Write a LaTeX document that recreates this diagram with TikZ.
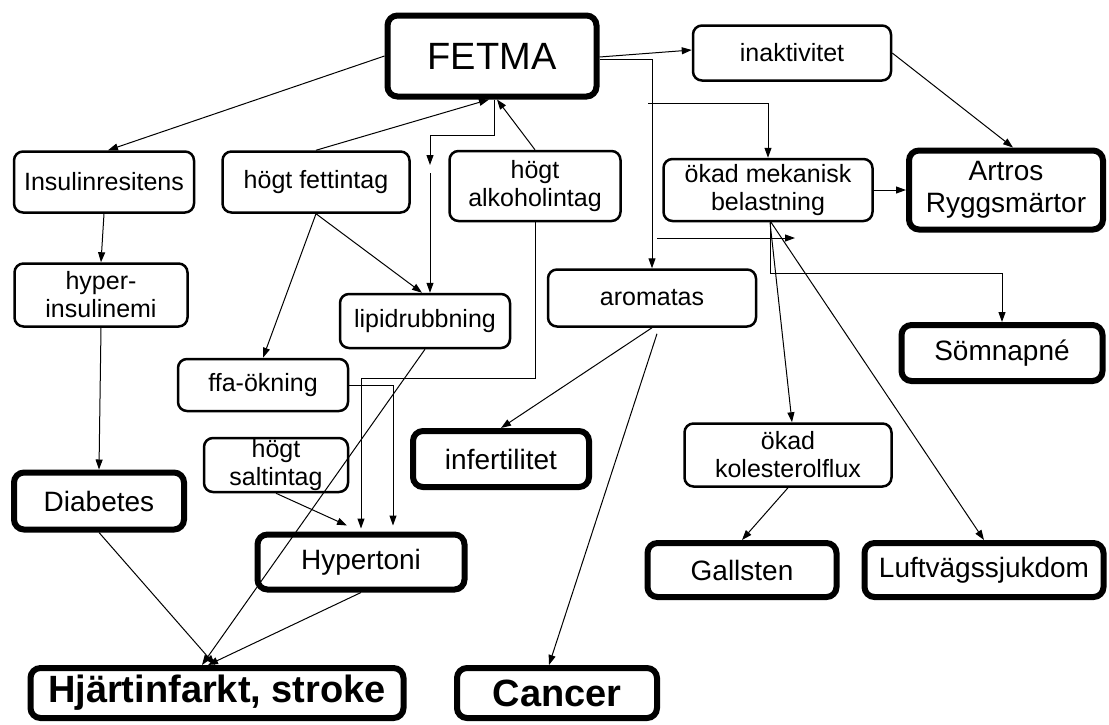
\documentclass[tikz,border=0pt]{standalone}
\usepackage{fontspec}
\setmainfont{Liberation Sans}
\usetikzlibrary{arrows.meta}

\begin{document}
\begin{tikzpicture}[x=1pt,y=-1pt]
        \tikzstyle{every node}=[draw,fill=white,rounded corners=9pt,align=center,inner sep=0pt,line width=2.5pt,font=\fontsize{25}{28}\selectfont]
        \tikzstyle{heavy}=[line width=6pt,rounded corners=10pt,font=\fontsize{28}{32}\selectfont]
        \tikzstyle{bold}=[font=\fontsize{38}{42}\selectfont\bfseries]
        \tikzstyle{arr}=[-{Triangle[length=10pt,width=7pt]},line width=1pt]
        \useasboundingbox (0,0) rectangle (1109,724);
        \node[heavy,font=\fontsize{38}{42}\selectfont,minimum width=209pt,minimum height=81pt] (fetma) at (492,56) {FETMA};
        \node[minimum width=198pt,minimum height=55pt] (inakt) at (792,53) {inaktivitet};
        \node[minimum width=180pt,minimum height=61pt] (insulin) at (104,182) {Insulinresitens};
        \node[minimum width=187pt,minimum height=61pt] (fett) at (316,182) {högt fettintag};
        \node[minimum width=171pt,minimum height=70pt] (alkohol) at (535,186) {högt\\alkoholintag};
        \node[minimum width=209pt,minimum height=62pt] (mekan) at (768,190) {ökad mekanisk\\belastning};
        \node[heavy,minimum width=194pt,minimum height=79pt] (artros) at (1006,190) {Artros\\Ryggsmärtor};
        \node[minimum width=173pt,minimum height=63pt] (hyper) at (101,295) {hyper-\\insulinemi};
        \node[minimum width=170pt,minimum height=54pt] (lipid) at (425,321) {lipidrubbning};
        \node[minimum width=170pt,minimum height=52pt] (ffa) at (263,385) {ffa-ökning};
        \node[minimum width=144pt,minimum height=54pt] (salt) at (276,465) {högt\\saltintag};
        \node[minimum width=208pt,minimum height=57pt] (aromatas) at (652,298) {aromatas};
        \node[heavy,minimum width=201pt,minimum height=56pt] (somn) at (1002,353) {Sömnapné};
        \node[heavy,minimum width=176pt,minimum height=56pt] (infert) at (501,459) {infertilitet};
        \node[minimum width=207pt,minimum height=63pt] (kolest) at (788,455) {ökad\\kolesterolflux};
        \node[heavy,minimum width=170pt,minimum height=57pt] (diab) at (99,501) {Diabetes};
        \node[heavy,minimum width=207pt,minimum height=55pt] (hypert) at (361,562) {Hypertoni};
        \node[heavy,minimum width=189pt,minimum height=54pt] (galls) at (742,570) {Gallsten};
        \node[heavy,minimum width=239pt,minimum height=54pt] (luft) at (984,570) {Luftvägssjukdom};
        \node[heavy,bold,minimum width=373pt,minimum height=50pt] (hjart) at (217,693) {Hjärtinfarkt, stroke};
        \node[heavy,bold,minimum width=200pt,minimum height=50pt] (cancer) at (557,693) {Cancer};
        \coordinate (fbend) at (430,135);
        \coordinate (fstop) at (430,165);
        \coordinate (lstart) at (430,173);
        \coordinate (abend) at (361,378);
        \coordinate (mbranch) at (648,103);
        \coordinate (sstart) at (657,238);
        \coordinate (send) at (795,238);
        \draw[arr] (fetma.west) -- ([xshift=4pt]insulin.north);
        \draw[arr] (fett.north) -- ([xshift=-3pt]fetma.south);
        \draw[arr] (alkohol.north) -- ([xshift=5pt]fetma.south);
        \draw[arr] ([xshift=2pt]fetma.south) |- (fbend) -- (fstop);
        \draw[arr] (lstart) -- (lstart |- lipid.north);
        \draw[arr] (insulin.south) -- (hyper.north);
        \draw[arr] (hyper.south) -- (diab.north);
        \draw[arr] (fett.south) -- (ffa.north);
        \draw[arr] (fett.south) -- ([xshift=-3pt]lipid.north);
        \draw[arr] (alkohol.south) |- (abend) -- ([yshift=3pt]hypert.north);
        \draw[arr] (ffa.east) -| ([xshift=32pt,yshift=6pt]hypert.north);
        \draw[arr] (salt.south) -- ([xshift=-14pt,yshift=6pt]hypert.north);
        \draw[arr] (lipid.south) -- ([xshift=-15pt]hjart.north);
        \draw[arr] (diab.south) -- ([xshift=-2pt]hjart.north);
        \draw[arr] (hypert.south) -- ([xshift=-9pt]hjart.north);
        \draw[arr] ([yshift=-1pt]fetma.east) -- ([yshift=3pt]inakt.west);
        \draw[arr] ([yshift=-3pt]fetma.east) -| (aromatas.north);
        \draw[arr] (mbranch) -| (mekan.north);
        \draw[arr] (sstart) -- (send);
        \draw[arr] (mekan.east) -- (artros.west);
        \draw[arr] (inakt.east) -- ([xshift=7pt]artros.north);
        \draw[arr] ([xshift=2pt]mekan.south) -- ([xshift=4pt]kolest.north);
        \draw[arr] ([xshift=3pt]mekan.south) -- (luft.north);
        \draw[arr] ([xshift=2pt]mekan.south) -- ++(0,51) -| (somn.north);
        \draw[arr] (aromatas.south) -- (infert.north);
        \draw[arr] ([xshift=5pt,yshift=-6pt]aromatas.south) -- ([xshift=-8pt]cancer.north);
        \draw[arr] (kolest.south) -- (galls.north);
    \end{tikzpicture}
\end{document}
